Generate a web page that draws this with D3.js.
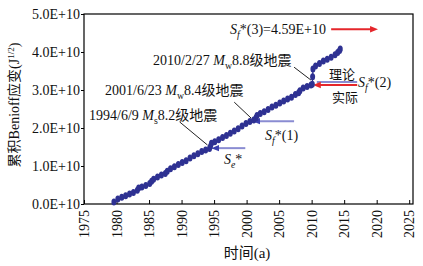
<!DOCTYPE html>
<html>
<head>
<meta charset="utf-8">
<script src="https://cdn.jsdelivr.net/npm/d3@7"></script>
<style>
  body { margin: 0; background: #fff; }
  text { font-family: "Liberation Serif", "Noto Sans CJK SC", serif; fill: #111; }
</style>
</head>
<body>
<svg id="chart" width="423" height="266"></svg>
<script>
// cumulative Benioff strain, units of 1E10 J^1/2
const years = [1979.6,1980.2,1980.8,1981.4,1982.0,1982.6,1983.2,1983.4,1983.9,1984.5,
  1985.1,1985.4,1985.7,1986.3,1986.9,1987.5,1987.8,1988.3,1988.9,1989.5,
  1990.1,1990.7,1991.3,1991.9,1992.5,1993.1,1993.7,1994.3,1994.45,1994.6,
  1995.1,1995.7,1996.3,1996.9,1997.5,1998.1,1998.7,1999.3,1999.9,2000.5,
  2001.1,2001.45,2001.6,2002.1,2002.7,2003.3,2003.9,2004.5,2005.1,2005.7,
  2006.3,2006.9,2007.5,2008.0,2008.2,2008.7,2009.3,2009.9,2010.1,2010.15,
  2010.2,2010.6,2011.2,2011.8,2012.4,2013.0,2013.6,2014.0,2014.3,2014.4];
const strain = [0.05,0.13,0.18,0.22,0.26,0.30,0.36,0.42,0.45,0.49,
  0.54,0.60,0.65,0.71,0.76,0.80,0.86,0.93,0.98,1.04,
  1.09,1.14,1.21,1.27,1.32,1.38,1.42,1.46,1.52,1.60,
  1.64,1.69,1.75,1.80,1.86,1.92,1.98,2.05,2.12,2.17,
  2.21,2.27,2.33,2.38,2.43,2.49,2.55,2.60,2.66,2.71,
  2.76,2.81,2.88,2.93,2.98,3.05,3.09,3.13,3.15,3.35,
  3.55,3.63,3.70,3.76,3.81,3.86,3.93,3.99,4.04,4.08];

const xTicks = [1975,1980,1985,1990,1995,2000,2005,2010,2015,2020,2025];
const yTicks = [0,1,2,3,4,5];
const yTickLabels = ['0.0E+10','1.0E+10','2.0E+10','3.0E+10','4.0E+10','5.0E+10'];

// reference levels: [from year, to year, value, color, arrow side]
const refLines = [
  [1995.2, 1999.8, 1.47, '#8a8cd2', 'start'],   // Se*
  [2001.5, 2007.3, 2.18, '#8a8cd2', 'start'],   // Sf*(1)
  [2010.8, 2017.0, 3.21, '#8a8cd2', 'none'],    // Sf*(2) theory
  [2010.8, 2017.0, 3.13, '#e5262b', 'start'],   // Sf*(2) actual
  [2013.0, 2019.6, 4.60, '#e5262b', 'end']      // Sf*(3)
];

// leader lines for the three events: [x0, y0, x1, y1] in data units
const leaders = [
  [1989.7, 2.16, 1994.0, 1.55],
  [1998.1, 2.68, 2000.7, 2.26],
  [2007.3, 3.60, 2009.9, 3.26]
];

const svg = d3.select('#chart');
const x = d3.scaleLinear().domain([1975, 2025]).range([84, 409.2]);
const y = d3.scaleLinear().domain([0, 5]).range([204, 14]);

// frame
svg.append('rect').attr('x', 84).attr('y', 14).attr('width', 329).attr('height', 190)
  .attr('fill', 'none').attr('stroke', '#000').attr('stroke-width', 1.2);

// axes
const gx = svg.append('g').attr('transform', 'translate(0,204)')
  .call(d3.axisBottom(x).tickValues(xTicks).tickSize(-4).tickFormat(d3.format('d')));
gx.select('.domain').remove();
gx.selectAll('line').attr('stroke', '#000');
gx.selectAll('text')
  .attr('font-size', 14)
  .attr('transform', 'rotate(-90)')
  .attr('text-anchor', 'end')
  .attr('x', -6).attr('y', 0).attr('dy', '0.33em');

const gy = svg.append('g').attr('transform', 'translate(84,0)')
  .call(d3.axisLeft(y).tickValues(yTicks).tickSize(3).tickFormat((d, i) => yTickLabels[i]));
gy.select('.domain').remove();
gy.selectAll('line').attr('stroke', '#000');
gy.selectAll('text').attr('font-size', 14).attr('x', -4);

// arrow markers
const defs = svg.append('defs');
['#8a8cd2', '#e5262b'].forEach((c, i) => {
  defs.append('marker').attr('id', 'arr' + i)
    .attr('viewBox', '0 0 10 10').attr('refX', 5).attr('refY', 5)
    .attr('markerWidth', 8).attr('markerHeight', 8)
    .attr('markerUnits', 'userSpaceOnUse')
    .attr('orient', 'auto-start-reverse')
    .append('path').attr('d', 'M0,1 L10,5 L0,9 Z').attr('fill', c === '#8a8cd2' ? '#3b3fae' : c);
});

svg.selectAll('.ref').data(refLines).enter().append('line')
  .attr('x1', d => x(d[0])).attr('x2', d => x(d[1]))
  .attr('y1', d => y(d[2])).attr('y2', d => y(d[2]))
  .attr('stroke', d => d[3]).attr('stroke-width', 2)
  .attr('marker-start', d => d[4] === 'start' ? `url(#arr${d[3] === '#8a8cd2' ? 0 : 1})` : null)
  .attr('marker-end', d => d[4] === 'end' ? 'url(#arr1)' : null);

// leaders
svg.selectAll('.leader').data(leaders).enter().append('line')
  .attr('x1', d => x(d[0])).attr('y1', d => y(d[1]))
  .attr('x2', d => x(d[2])).attr('y2', d => y(d[3]))
  .attr('stroke', '#222').attr('stroke-width', 1);

// series
const pts = years.map((t, i) => [t, strain[i]]);
svg.append('path').datum(pts)
  .attr('d', d3.line().x(d => x(d[0])).y(d => y(d[1])))
  .attr('fill', 'none').attr('stroke', '#2e3192').attr('stroke-width', 1.2);
svg.selectAll('.dot').data(pts).enter().append('ellipse')
  .attr('cx', d => x(d[0])).attr('cy', d => y(d[1]))
  .attr('rx', 2.5).attr('ry', 3.5).attr('fill', '#2e3192');

// rich text helper
function rich(px, py, parts, size) {
  const t = svg.append('text').attr('x', px).attr('y', py).attr('font-size', size);
  let shift = 0;
  parts.forEach(([s, st]) => {
    const sp = t.append('tspan').text(s);
    let target = 0;
    if (st.includes('sub')) target = size * 0.3;
    if (st.includes('sup')) target = -size * 0.4;
    sp.attr('dy', target - shift);
    shift = target;
    if (target !== 0) sp.attr('font-size', size * 0.7);
    if (st.includes('i')) sp.attr('font-style', 'italic');
  });
  return t;
}

rich(89, 120, [['1994/6/9 ', ''], ['M', 'i'], ['s', 'sub'], ['8.2级地震', '']], 14);
rich(105, 95, [['2001/6/23 ', ''], ['M', 'i'], ['w', 'sub'], ['8.4级地震', '']], 14);
rich(153, 65, [['2010/2/27 ', ''], ['M', 'i'], ['w', 'sub'], ['8.8级地震', '']], 14);
rich(230, 34, [['S', 'i'], ['f', 'i sub'], ['*(3)=4.59E+10', '']], 14);
rich(224, 164, [['S', 'i'], ['e', 'i sub'], ['*', '']], 14);
rich(265, 140, [['S', 'i'], ['f', 'i sub'], ['*(1)', '']], 14);
rich(358, 87, [['S', 'i'], ['f', 'i sub'], ['*(2)', '']], 14);
rich(329, 79, [['理论', '']], 13);
rich(332, 102, [['实际', '']], 13);

svg.append('text').attr('x', 247).attr('y', 258).attr('text-anchor', 'middle')
  .attr('font-size', 15).text('时间(a)');

const yl = svg.append('text').attr('transform', 'translate(19,105) rotate(-90)')
  .attr('text-anchor', 'middle').attr('font-size', 14);
yl.append('tspan').text('累积Benioff应变(J');
yl.append('tspan').attr('dy', -5).attr('font-size', 9).text('1/2');
yl.append('tspan').attr('dy', 5).text(')');
</script>
</body>
</html>
